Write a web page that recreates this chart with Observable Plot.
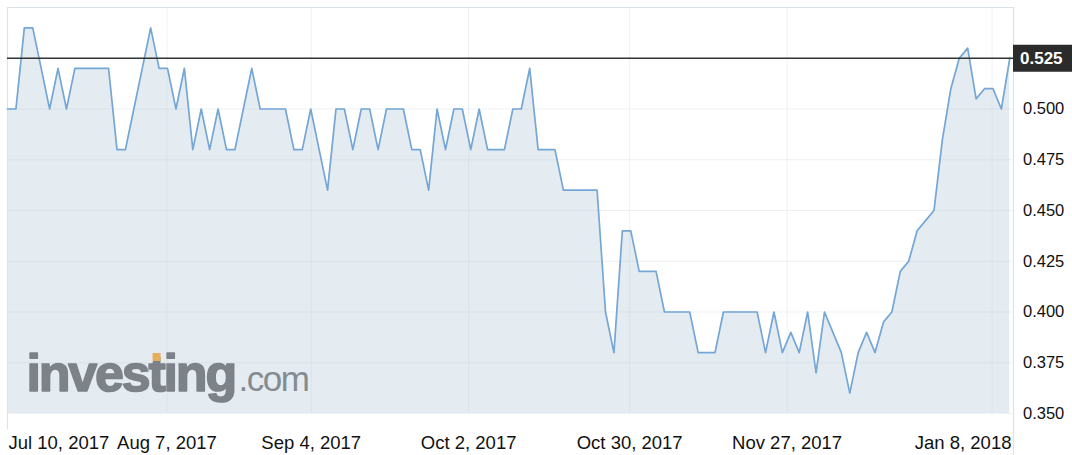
<!DOCTYPE html>
<html><head><meta charset="utf-8">
<script src="https://cdn.jsdelivr.net/npm/d3@7"></script>
<script src="https://cdn.jsdelivr.net/npm/@observablehq/plot@0.6"></script>
<style>body{margin:0;background:#fff;overflow:hidden}</style>
</head><body><div id="chart"></div>
<script>
// Closing prices, one per plotted session (index-based x axis)
const prices = [
  0.50,0.50,0.54,0.54,0.52,0.50,0.52,0.50,0.52,0.52,
  0.52,0.52,0.52,0.48,0.48,0.50,0.52,0.54,0.52,0.52,
  0.50,0.52,0.48,0.50,0.48,0.50,0.48,0.48,0.50,0.52,
  0.50,0.50,0.50,0.50,0.48,0.48,0.50,0.48,0.46,0.50,
  0.50,0.48,0.50,0.50,0.48,0.50,0.50,0.50,0.48,0.48,
  0.46,0.50,0.48,0.50,0.50,0.48,0.50,0.48,0.48,0.48,
  0.50,0.50,0.52,0.48,0.48,0.48,0.46,0.46,0.46,0.46,
  0.46,0.40,0.38,0.44,0.44,0.42,0.42,0.42,0.40,0.40,
  0.40,0.40,0.38,0.38,0.38,0.40,0.40,0.40,0.40,0.40,
  0.38,0.40,0.38,0.39,0.38,0.40,0.37,0.40,0.39,0.38,
  0.36,0.38,0.39,0.38,0.395,0.40,0.42,0.425,0.44,0.445,
  0.45,0.485,0.51,0.525,0.53,0.505,0.51,0.51,0.50,0.525
];
const tickLabels = ["Jul 10, 2017","Aug 7, 2017","Sep 4, 2017","Oct 2, 2017","Oct 30, 2017","Nov 27, 2017","Jan 8, 2018"];
const tickIndex = [0, 18.93, 36.06, 54.75, 73.87, 92.56, 116.9];
const yTicks = [0.350, 0.375, 0.400, 0.425, 0.450, 0.475, 0.500];
const lastPrice = 0.525;
const yDomain = [0.35, 0.55];
const xDomain = [0, 119.44];

const data = prices.map((v, i) => ({i, v}));
const ticks = tickLabels.map((label, k) => ({label, x: tickIndex[k], k}));
const nT = ticks.length;
const gridStroke = "#c3ccd6";
const font = "'Liberation Sans', Arial, Helvetica, sans-serif";
const logoGray = "#7c8288";

const chart = Plot.plot({
  width: 1072, height: 455,
  marginLeft: 7, marginRight: 59, marginTop: 7, marginBottom: 42,
  x: {domain: xDomain, axis: null},
  y: {domain: yDomain, axis: null},
  style: {fontFamily: font, background: "#fff", overflow: "visible"},
  marks: [
    Plot.areaY(data, {x: "i", y1: yDomain[0], y2: "v", fill: "#e4ecf2"}),
    Plot.ruleY([...yTicks, lastPrice], {stroke: gridStroke, strokeOpacity: 0.28, strokeWidth: 1}),
    Plot.ruleX(tickIndex, {y1: yDomain[0], y2: yDomain[1], stroke: gridStroke, strokeOpacity: 0.28}),
    // frame lines
    Plot.ruleY([yDomain[1]], {stroke: "#dbe2eb", strokeWidth: 1.2}),
    Plot.ruleX([xDomain[0]], {y1: yDomain[1], y2: 0.342, stroke: "#dbe2eb", strokeWidth: 1.2}),
    Plot.ruleX([xDomain[1]], {y1: yDomain[1], y2: 0.329, stroke: "#dbe2eb", strokeWidth: 1.2}),
    // logo
    Plot.text(["investing"], {x: xDomain[0], y: yDomain[0], text: d => d, textAnchor: "start", lineAnchor: "bottom",
      dx: 19, dy: -23, fontSize: 52, fontWeight: "bold", fill: logoGray, stroke: logoGray, strokeWidth: 1.6}),
    Plot.text([".com"], {x: xDomain[0], y: yDomain[0], text: d => d, textAnchor: "start", lineAnchor: "bottom",
      dx: 231, dy: -23, fontSize: 35, fill: "#868b91"}),
    // series
    Plot.lineY(data, {x: "i", y: "v", stroke: "#74a6d6", strokeWidth: 1.7}),
    // last price line and tag
    Plot.ruleY([lastPrice], {x1: xDomain[0], x2: xDomain[1], stroke: "#333", strokeWidth: 1.6}),
    Plot.ruleY([lastPrice], {x1: xDomain[1], x2: xDomain[1] + 7.05, stroke: "#2b2b2b", strokeWidth: 27}),
    Plot.text([lastPrice], {x: xDomain[1], y: d => d, text: d => d.toFixed(3), textAnchor: "start", dx: 6.5,
      fill: "#fff", fontWeight: "bold", fontSize: 17}),
    // y tick labels
    Plot.text(yTicks, {x: xDomain[1], y: d => d, text: d => d.toFixed(3), textAnchor: "start", dx: 9.5,
      fill: "#111", fontSize: 16.5}),
    // x tick labels
    Plot.text(ticks.filter(t => t.k === 0), {x: "x", y: yDomain[0], text: "label", textAnchor: "start", lineAnchor: "bottom",
      dx: 1, dy: 35, fill: "#111", fontSize: 18.5}),
    Plot.text(ticks.filter(t => t.k > 0 && t.k < nT - 1), {x: "x", y: yDomain[0], text: "label", textAnchor: "middle", lineAnchor: "bottom",
      dy: 35, fill: "#111", fontSize: 18.5}),
    Plot.text(ticks.filter(t => t.k === nT - 1), {x: () => xDomain[1], y: yDomain[0], text: "label", textAnchor: "end", lineAnchor: "bottom",
      dx: -2, dy: 35, fill: "#111", fontSize: 18.5})
  ]
});
document.getElementById("chart").appendChild(chart);

// logo letter spacing + orange accent on the "t"
const texts = d3.select(chart).selectAll("text");
const inv = texts.filter(function () { return this.textContent === "investing"; });
inv.attr("letter-spacing", "-2.2px");
texts.filter(function () { return this.textContent === ".com"; }).attr("letter-spacing", "-1.5px");
const invNode = inv.node();
if (invNode && invNode.getExtentOfChar) {
  try {
    const ext = invNode.getExtentOfChar(5);
    const ctm = invNode.getCTM();
    const x0 = ext.x + ctm.e, y0 = ext.y + ctm.f;
    d3.select(chart).append("rect")
      .attr("x", x0 + ext.width * 0.27).attr("y", 353)
      .attr("width", Math.max(8, ext.width * 0.5)).attr("height", 8)
      .attr("fill", "#e6ad5a");
  } catch (e) {}
}
</script>
</body></html>
